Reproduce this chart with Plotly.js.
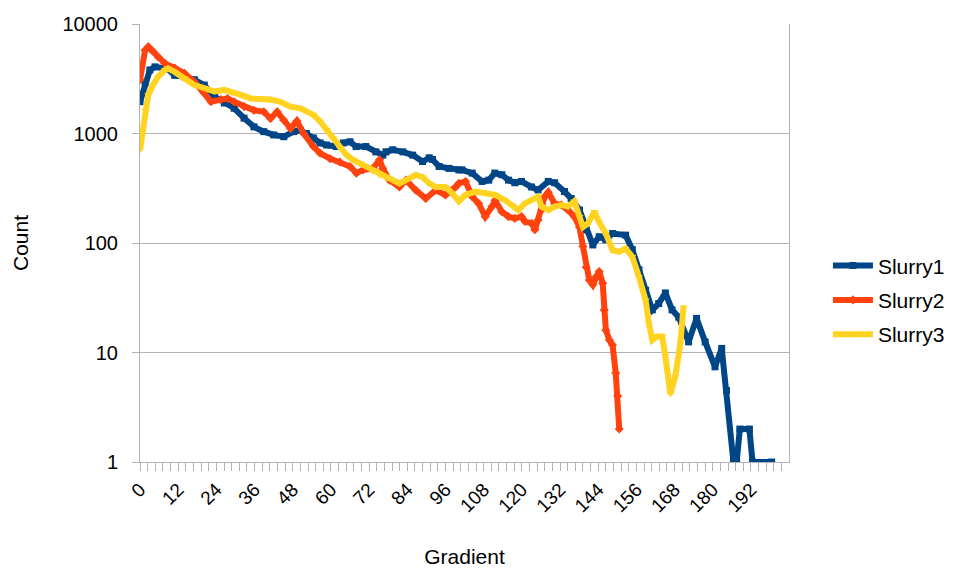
<!DOCTYPE html>
<html>
<head>
<meta charset="utf-8">
<script src="https://cdn.plot.ly/plotly-3.0.1.min.js"></script>
<style>html,body{margin:0;padding:0;background:#fff;}</style>
</head>
<body>
<div id="chart" style="width:962px;height:568px;"></div>
<script>
// Series names
const seriesNames = ['Slurry1', 'Slurry2', 'Slurry3'];

// Slurry1 (Gradient, Count)
const s1x = [0,1.6,3.1,4.7,8.7,10.9,14,17.1,20.2,23.4,26.5,29.6,32.7,35.8,38.9,42,45.2,48.3,50.4,52.3,54.5,56.6,58.6,61.7,63.9,66,67.9,71,74.1,76.3,77.3,79.4,82.6,85.7,88.8,90.9,91.9,94,97.1,100.2,101.2,104.4,107.5,109.6,111.5,113.7,115.8,117.8,119.9,123,125.1,128.3,130.3,133.4,135.5,138.1,140.2,142.3,144.3,146.4,148.5,152.6,154.7,156.8,158.9,161,163,165.1,167.2,169.3,172.4,174.9,177.6,180.7,182.8,184.3,186.5,187.5,188.5,191.5,192.5,198.5];
const s1y = [1950,2900,3800,4060,3900,3400,3300,3100,2770,2170,1900,1700,1380,1150,1040,970,935,1040,1070,1000,910,820,785,760,820,840,760,760,680,635,680,710,680,635,555,600,580,500,480,465,465,435,365,375,435,420,375,355,365,325,305,365,355,295,255,200,132,96,114,107,122,118,87,57,37,24.5,28,35,24.5,21,12.5,20.5,12.5,7.4,10.9,4.5,1,1,2,2,1,1];

// Slurry2
const s2x = [0,1.6,2.6,4.1,5.7,7.8,10.9,14,17.1,20.2,22.3,25.5,27.5,29.6,32.7,35.8,38.9,41,43.1,45.2,47.3,49.3,51.4,54.5,56.6,59.7,62.8,66,68,70.1,73.2,75.3,76.3,78.4,81.5,83.6,86.7,89.8,92.9,96,99.2,100.2,102.3,104.4,106.4,108.5,110.6,111.6,113.7,115.8,117.8,119.9,121,123.1,124.1,125.1,126.2,127.2,128.3,130.3,132.4,134.5,136.5,138.1,139.2,140.2,141.2,142.3,143.3,144.3,145.4,145.9,146.4,147.5,148.5,149.5,150.1,150.6];
const s2y = [3100,5760,6200,5620,5000,4370,3970,3540,2960,2340,1950,2040,2090,1950,1760,1630,1580,1370,1580,1320,1110,1300,1000,760,660,590,550,500,435,465,480,575,480,375,325,375,303,255,303,275,325,350,365,265,230,174,215,246,193,174,168,174,157,151,132,162,200,265,290,230,222,200,174,140,93,60,46,41.5,49,55,43,24.5,16,13,11.7,6.5,4,2];

// Slurry3
const s3x = [0,1.6,2.6,4.1,5.7,7.8,8.8,10.9,14,17.1,20.2,23.4,26.5,28.6,31.7,34.8,37.9,41,44.1,47.3,50.4,54.5,56.6,58.7,60.7,62.8,64.9,67,69.1,71.1,73.2,75.3,77.4,79.4,81.5,83.6,86.7,88.8,90.9,92.9,96,98.1,100.2,102.3,105.4,108.5,111.6,114.7,116.8,118.9,121,123.1,125.1,126.2,128.3,130.3,132.4,134.5,136.5,138.1,139.2,140.7,142.8,144.3,146.4,148.5,150.6,152.6,154.7,156.8,158.9,159.9,161,162.5,164.1,165.1,166.7,168.2,169.8,170.8];
const s3y = [710,1630,2250,2770,3300,3800,3940,3650,3180,2770,2600,2420,2500,2420,2250,2090,2090,2040,1950,1760,1700,1480,1290,1080,910,735,635,575,535,500,450,418,390,375,350,375,418,400,350,325,325,285,240,275,295,285,275,246,222,200,230,246,265,215,200,215,222,215,240,174,140,150,193,155,122,86,83,89,75,49,30,18.5,13,14,14,9.2,4.2,6,12,26];

// Tick labels
const yTickVals = [1, 10, 100, 1000, 10000];
const yTickText = ['1', '10', '100', '1000', '10000'];

const colors = ['#004586', '#ff420e', '#ffd320'];
const symbols = ['square', 'diamond', 'triangle-down'];
const xs = [s1x, s2x, s3x];
const ys = [s1y, s2y, s3y];

const FONT = 'Liberation Sans, Arial, sans-serif';

const traces = seriesNames.map((n, i) => ({
  type: 'scatter',
  mode: 'lines+markers',
  name: n,
  x: xs[i],
  y: ys[i],
  legendgroup: n,
  line: {color: colors[i], width: 6},
  marker: {color: colors[i], symbol: symbols[i], size: 7}
}));

const layout = {
  width: 962,
  height: 568,
  margin: {l: 140, r: 171, t: 24, b: 106},
  paper_bgcolor: '#ffffff',
  plot_bgcolor: '#ffffff',
  font: {family: FONT, size: 20, color: '#000000'},
  showlegend: true,
  xaxis: {
    range: [0, 203.95],
    tickmode: 'linear',
    tick0: 0,
    dtick: 12,
    tickangle: -45,
    showgrid: false,
    zeroline: false,
    showline: true,
    linecolor: '#b3b3b3',
    linewidth: 1,
    ticks: 'outside',
    ticklen: 8,
    tickcolor: '#b3b3b3',
    tickfont: {family: FONT, size: 19, color: '#000000'},
    minor: {tick0: 0, dtick: 2.4, ticks: 'outside', ticklen: 8, tickcolor: '#b3b3b3', showgrid: false},
    automargin: false,
    title: {text: 'Gradient', font: {family: FONT, size: 21, color: '#000000'}, standoff: 34}
  },
  yaxis: {
    type: 'log',
    range: [0, 4],
    tickmode: 'array',
    tickvals: yTickVals,
    ticktext: yTickText,
    showgrid: true,
    gridcolor: '#b3b3b3',
    gridwidth: 1,
    zeroline: false,
    showline: true,
    mirror: true,
    linecolor: '#b3b3b3',
    linewidth: 1,
    ticks: 'outside',
    ticklen: 7,
    tickcolor: '#b3b3b3',
    ticklabelstandoff: 10,
    tickfont: {family: FONT, size: 20, color: '#000000'},
    automargin: false,
    title: {text: 'Count', font: {family: FONT, size: 21, color: '#000000'}, standoff: 28}
  },
  legend: {
    x: 1.06,
    xanchor: 'left',
    y: 0.37,
    yanchor: 'middle',
    font: {family: FONT, size: 21, color: '#000000'},
    bgcolor: 'rgba(0,0,0,0)',
    borderwidth: 0,
    traceorder: 'grouped',
    tracegroupgap: 4,
    itemwidth: 40
  }
};

Plotly.newPlot('chart', traces, layout, {staticPlot: true, displayModeBar: false});
</script>
</body>
</html>
